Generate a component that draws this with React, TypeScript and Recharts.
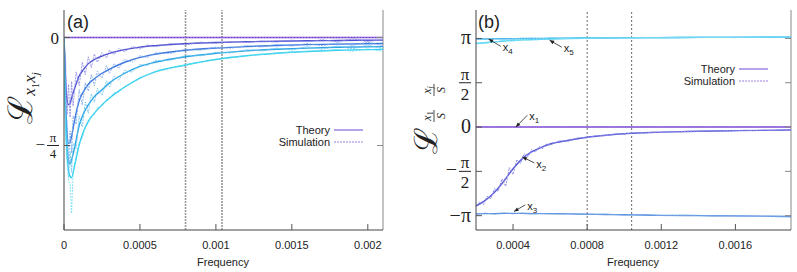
import React from 'react';
import { LineChart, Line, XAxis, YAxis, ReferenceLine } from 'recharts';

// ---- panel (a) data ----
const thFreqA = [0, 0.00001, 0.00002, 0.00003, 0.00004, 0.00005, 0.00007, 0.0001, 0.00013, 0.00016, 0.0002, 0.00025, 0.0003, 0.0004, 0.0005, 0.0006, 0.0008, 0.001, 0.0012, 0.0014, 0.0016, 0.0018, 0.0021];
const thA1 = [0, 0, 0, 0, 0, 0, 0, 0, 0, 0, 0, 0, 0, 0, 0, 0, 0, 0, 0, 0, 0, 0, 0];
const thA2 = [0, -0.3, -0.45, -0.49, -0.48, -0.44, -0.37, -0.28, -0.23, -0.19, -0.16, -0.135, -0.115, -0.088, -0.07, -0.059, -0.045, -0.036, -0.031, -0.027, -0.024, -0.022, -0.019];
const thA3 = [0, -0.45, -0.7, -0.77, -0.76, -0.72, -0.6, -0.46, -0.39, -0.34, -0.3, -0.26, -0.23, -0.18, -0.145, -0.122, -0.093, -0.077, -0.066, -0.058, -0.052, -0.048, -0.044];
const thA4 = [0, -0.5, -0.8, -0.9, -0.92, -0.89, -0.8, -0.64, -0.55, -0.49, -0.43, -0.38, -0.33, -0.26, -0.21, -0.18, -0.14, -0.115, -0.097, -0.085, -0.077, -0.071, -0.066];
const thA5 = [0, -0.55, -0.85, -0.97, -1.01, -1.02, -0.93, -0.78, -0.68, -0.61, -0.55, -0.49, -0.44, -0.36, -0.295, -0.25, -0.2, -0.16, -0.133, -0.115, -0.102, -0.093, -0.086];

const simFreqA = [0, 0.00001, 0.00002, 0.00003, 0.00004, 0.00005, 0.00006, 0.00008, 0.0001, 0.00012, 0.00014, 0.00016, 0.00018, 0.0002, 0.00022, 0.00025, 0.00028, 0.0003, 0.00033, 0.00036, 0.0004, 0.00045, 0.0005, 0.00055, 0.0006, 0.0007, 0.0008, 0.0009, 0.001, 0.0011, 0.0012, 0.0013, 0.0014, 0.0015, 0.0016, 0.0017, 0.0018, 0.0019, 0.002, 0.0021];
const simA2 = [0, -0.15, -0.56, -0.34, -0.58, -0.32, -0.5, -0.25, -0.35, -0.18, -0.27, -0.14, -0.22, -0.12, -0.18, -0.11, -0.15, -0.09, -0.125, -0.08, -0.103, -0.066, -0.084, -0.055, -0.068, -0.045, -0.052, -0.034, -0.043, -0.029, -0.037, -0.025, -0.033, -0.019, -0.031, -0.016, -0.031, -0.01, -0.03, -0.014];
const simA3 = [0, -0.62, -0.6, -0.9, -0.68, -0.84, -0.57, -0.63, -0.38, -0.49, -0.33, -0.39, -0.27, -0.35, -0.245, -0.295, -0.205, -0.26, -0.19, -0.225, -0.16, -0.178, -0.132, -0.146, -0.112, -0.116, -0.085, -0.093, -0.07, -0.078, -0.058, -0.069, -0.05, -0.062, -0.044, -0.06, -0.038, -0.057, -0.034, -0.06];
const simA4 = [0, -0.68, -0.72, -1.02, -0.83, -0.98, -0.77, -0.81, -0.57, -0.65, -0.47, -0.55, -0.41, -0.47, -0.37, -0.42, -0.315, -0.36, -0.28, -0.31, -0.24, -0.252, -0.195, -0.205, -0.168, -0.166, -0.13, -0.133, -0.107, -0.112, -0.089, -0.098, -0.077, -0.091, -0.067, -0.085, -0.061, -0.083, -0.055, -0.081];
const simA5 = [0, -0.72, -0.9, -1.04, -1.06, -1.28, -0.98, -0.87, -0.77, -0.73, -0.65, -0.62, -0.57, -0.56, -0.51, -0.5, -0.45, -0.44, -0.4, -0.4, -0.355, -0.33, -0.29, -0.272, -0.248, -0.224, -0.198, -0.18, -0.158, -0.148, -0.13, -0.124, -0.113, -0.108, -0.1, -0.098, -0.088, -0.1, -0.083, -0.1];

// ---- panel (b) data ----
const thFreqB = [0.0002, 0.00025, 0.0003, 0.00035, 0.0004, 0.00045, 0.0005, 0.00055, 0.0006, 0.0007, 0.0008, 0.0009, 0.001, 0.0011, 0.0012, 0.0014, 0.0016, 0.0019];
const thB1 = [0, 0, 0, 0, 0, 0, 0, 0, 0, 0, 0, 0, 0, 0, 0, 0, 0, 0];
const thB2 = [-2.8, -2.6, -2.31, -1.92, -1.48, -1.12, -0.88, -0.73, -0.6, -0.47, -0.36, -0.29, -0.235, -0.205, -0.18, -0.147, -0.127, -0.107];
const thB3 = [-3.08, -3.07, -3.07, -3.06, -3.06, -3.06, -3.07, -3.07, -3.07, -3.08, -3.09, -3.1, -3.11, -3.12, -3.13, -3.14, -3.15, -3.17];
const thB4 = [3.12, 3.12, 3.13, 3.13, 3.13, 3.14, 3.14, 3.14, 3.15, 3.15, 3.16, 3.16, 3.17, 3.17, 3.17, 3.18, 3.18, 3.19];
const thB5 = [2.96, 2.99, 3.02, 3.05, 3.07, 3.09, 3.1, 3.11, 3.12, 3.14, 3.15, 3.16, 3.16, 3.17, 3.17, 3.18, 3.18, 3.19];

const simFreqB = [0.0002, 0.00022, 0.00024, 0.00026, 0.00028, 0.0003, 0.00032, 0.00034, 0.00036, 0.00038, 0.0004, 0.00042, 0.00044, 0.00046, 0.00048, 0.0005, 0.00052, 0.00054, 0.00056, 0.00058, 0.0006, 0.00065, 0.0007, 0.00075, 0.0008, 0.00085, 0.0009, 0.00095, 0.001, 0.00105, 0.0011, 0.00115, 0.0012, 0.00125, 0.0013, 0.00135, 0.0014, 0.00145, 0.0015, 0.00155, 0.0016, 0.00165, 0.0017, 0.00175, 0.0018, 0.00185, 0.0019];
const simB2 = [-2.78, -2.66, -2.75, -2.46, -2.54, -2.18, -2.28, -1.84, -2.1, -1.44, -1.68, -1.16, -1.3, -0.95, -1.05, -0.8, -0.89, -0.69, -0.76, -0.6, -0.64, -0.49, -0.5, -0.38, -0.38, -0.3, -0.305, -0.25, -0.245, -0.21, -0.213, -0.185, -0.188, -0.162, -0.168, -0.148, -0.154, -0.134, -0.142, -0.123, -0.133, -0.115, -0.127, -0.107, -0.122, -0.101, -0.114];
const simB3 = [-3.1, -3.05, -3.09, -3.04, -3.08, -3.05, -3.08, -3.06, -3.08, -3.07, -3.1, -3.09, -3.12, -3.11, -3.14, -3.13, -3.16, -3.18];
const simB4 = [3.13, 3.11, 3.14, 3.12, 3.14, 3.13, 3.15, 3.13, 3.16, 3.14, 3.17, 3.15, 3.18, 3.16, 3.18, 3.17, 3.19, 3.18];
const simB5 = [2.95, 3.0, 3.01, 3.06, 3.06, 3.1, 3.09, 3.12, 3.11, 3.15, 3.14, 3.17, 3.15, 3.18, 3.16, 3.19, 3.17, 3.2];

const markerFreqs = [0.0008, 0.00104];

const xTicksA = [0, 0.0005, 0.001, 0.0015, 0.002];
const xTicksB = [0.0004, 0.0008, 0.0012, 0.0016];
const yTicksA = [
  { value: 0, sign: '', num: '0', den: '' },
  { value: -Math.PI / 4, sign: '\u2212', num: '\u03c0', den: '4' },
];
const yTicksB = [
  { value: Math.PI, sign: '', num: '\u03c0', den: '' },
  { value: Math.PI / 2, sign: '', num: '\u03c0', den: '2' },
  { value: 0, sign: '', num: '0', den: '' },
  { value: -Math.PI / 2, sign: '\u2212', num: '\u03c0', den: '2' },
  { value: -Math.PI, sign: '\u2212', num: '\u03c0', den: '' },
];

// arrows in panel (b): tail -> tip, label near the tail
const annotationsB = [
  { sub: '1', tail: [0.000477, 0.42], tip: [0.000415, 0] },
  { sub: '2', tail: [0.000515, -1.27], tip: [0.00045, -1.06] },
  { sub: '3', tail: [0.000466, -2.76], tip: [0.000405, -2.99] },
  { sub: '4', tail: [0.000334, 2.86], tip: [0.000268, 3.12] },
  { sub: '5', tail: [0.000663, 2.83], tip: [0.000597, 3.08] },
];

const colorsA = [
  { th: '#6a32c8', sim: '#9b7ae0' },
  { th: '#5050d0', sim: '#8a8ae8' },
  { th: '#3c78dc', sim: '#7aa6ec' },
  { th: '#2aa4e4', sim: '#6cc4f0' },
  { th: '#28ccec', sim: '#70e0f4' },
];
const colorsB = [
  { th: '#7a3fd0', sim: '#a184e4' },
  { th: '#5a5ad8', sim: '#8c8cea' },
  { th: '#4a88dc', sim: '#84aeec' },
  { th: '#38b2ea', sim: '#7ccaf2' },
  { th: '#40d0f0', sim: '#86e2f6' },
];

const toPts = (fs: number[], vs: number[]) => fs.map((f, i) => ({ f, v: vs[i] }));

const serif = '"Liberation Serif", "DejaVu Serif", serif';
const sans = '"Liberation Sans", Arial, sans-serif';

const makeXTick = (fmt: (v: number) => string) => (props: any) => {
  const { x, y, payload } = props;
  return (
    <g>
      <line x1={x} x2={x} y1={y} y2={y - 6} stroke="#555" strokeWidth={1} />
      <text x={x} y={y + 19} textAnchor="middle" fontSize={11} fontFamily={sans} fill="#222">
        {fmt(payload.value)}
      </text>
    </g>
  );
};

const makeYTick = (labels: any[], plotW: number, numSize: number, fracSize: number) => (props: any) => {
  const { x, y, index } = props;
  const lab = labels[index];
  if (!lab) return null;
  const ticks = (
    <>
      <line x1={x} x2={x + 6} y1={y} y2={y} stroke="#555" />
      <line x1={x + plotW - 6} x2={x + plotW} y1={y} y2={y} stroke="#888" />
    </>
  );
  if (!lab.den) {
    return (
      <g>
        {ticks}
        <text x={x - 5} y={y + 6} textAnchor="end" fontSize={numSize} fontFamily={serif} fill="#222">
          {lab.sign}{lab.num}
        </text>
      </g>
    );
  }
  const cx = x - 11;
  return (
    <g>
      {ticks}
      <text x={cx - 8} y={y + 5} textAnchor="end" fontSize={numSize} fontFamily={serif} fill="#222">{lab.sign}</text>
      <text x={cx} y={y - 3} textAnchor="middle" fontSize={fracSize} fontFamily={serif} fill="#222">{lab.num}</text>
      <line x1={cx - 6} x2={cx + 6} y1={y} y2={y} stroke="#222" strokeWidth={1} />
      <text x={cx} y={y + fracSize} textAnchor="middle" fontSize={fracSize} fontFamily={serif} fill="#222">{lab.den}</text>
    </g>
  );
};

const arrowShape = (sub: string) => (props: any) => {
  const { x1, y1, x2, y2 } = props;
  if (x1 == null) return null;
  const ang = Math.atan2(y2 - y1, x2 - x1);
  const L = 5;
  const a1 = ang + Math.PI - 0.4;
  const a2 = ang + Math.PI + 0.4;
  return (
    <g>
      <line x1={x1} y1={y1} x2={x2} y2={y2} stroke="#222" strokeWidth={0.8} />
      <polygon
        points={`${x2},${y2} ${x2 + L * Math.cos(a1)},${y2 + L * Math.sin(a1)} ${x2 + L * Math.cos(a2)},${y2 + L * Math.sin(a2)}`}
        fill="#222"
      />
      <text x={x1 + 2} y={y1 + 5} fontSize={11} fontFamily={sans} fill="#222">
        x<tspan fontSize={8} dy={3}>{sub}</tspan>
      </text>
    </g>
  );
};

const fmtA = (v: number) => (v === 0 ? '0' : String(v));
const fmtB = (v: number) => v.toFixed(4);

const ChartA = () => {
  const th = [thA1, thA2, thA3, thA4, thA5];
  const sim = [thA1.map(() => 0), simA2, simA3, simA4, simA5];
  return (
    <LineChart width={400} height={272} margin={{ top: 10, right: 17, bottom: 0, left: 24 }}>
      <XAxis dataKey="f" type="number" domain={[0, 0.0021]} ticks={xTicksA} height={42}
        tickSize={0} tickMargin={0} tick={makeXTick(fmtA)} axisLine={{ stroke: '#444' }} tickLine={false} interval={0} allowDataOverflow />
      <YAxis type="number" domain={[-1.4, 0.2]} ticks={yTicksA.map(t => t.value)} width={40}
        tickSize={0} tickMargin={0} tick={makeYTick(yTicksA, 319, 17, 13)} axisLine={{ stroke: '#444' }} tickLine={false} interval={0} allowDataOverflow />
      <ReferenceLine x={0.0021} stroke="#888" />
      {markerFreqs.map((m, i) => (
        <ReferenceLine key={'m' + i} x={m} stroke="#999" strokeWidth={1.6} strokeDasharray="2 1" />
      ))}
      {th.map((s, i) => (
        <Line key={'t' + i} data={toPts(thFreqA, s)} dataKey="v" type="monotone"
          stroke={colorsA[i].th} strokeWidth={1.4} dot={false} isAnimationActive={false} />
      ))}
      {sim.map((s, i) => (
        <Line key={'s' + i} data={i === 0 ? toPts(thFreqA, s) : toPts(simFreqA, s)} dataKey="v" type="linear"
          stroke={colorsA[i].sim} strokeWidth={1} strokeDasharray="2 1" strokeOpacity={0.85} dot={false} isAnimationActive={false} />
      ))}
    </LineChart>
  );
};

const ChartB = () => {
  const th = [thB1, thB2, thB3, thB4, thB5];
  return (
    <LineChart width={397} height={272} margin={{ top: 10, right: 6, bottom: 0, left: 26 }}>
      <XAxis dataKey="f" type="number" domain={[0.0002, 0.0019]} ticks={xTicksB} height={42}
        tickSize={0} tickMargin={0} tick={makeXTick(fmtB)} axisLine={{ stroke: '#444' }} tickLine={false} interval={0} allowDataOverflow />
      <YAxis type="number" domain={[-3.65, 4.15]} ticks={yTicksB.map(t => t.value)} width={50}
        tickSize={0} tickMargin={0} tick={makeYTick(yTicksB, 315, 20, 17)} axisLine={{ stroke: '#444' }} tickLine={false} interval={0} allowDataOverflow />
      <ReferenceLine x={0.0019} stroke="#888" />
      {markerFreqs.map((m, i) => (
        <ReferenceLine key={'m' + i} x={m} stroke="#444" strokeWidth={0.8} strokeDasharray="2 2" />
      ))}
      {th.map((s, i) => (
        <Line key={'t' + i} data={toPts(thFreqB, s)} dataKey="v" type="monotone"
          stroke={colorsB[i].th} strokeWidth={1.4} dot={false} isAnimationActive={false} />
      ))}
      <Line data={toPts(thFreqB, thB1)} dataKey="v" stroke={colorsB[0].sim} strokeWidth={1} strokeDasharray="2 1" dot={false} isAnimationActive={false} />
      <Line data={toPts(simFreqB, simB2)} dataKey="v" stroke={colorsB[1].sim} strokeWidth={1} strokeDasharray="2 1" dot={false} isAnimationActive={false} />
      <Line data={toPts(thFreqB, simB3)} dataKey="v" stroke={colorsB[2].sim} strokeWidth={1} strokeDasharray="2 1" dot={false} isAnimationActive={false} />
      <Line data={toPts(thFreqB, simB4)} dataKey="v" stroke={colorsB[3].sim} strokeWidth={1} strokeDasharray="2 1" dot={false} isAnimationActive={false} />
      <Line data={toPts(thFreqB, simB5)} dataKey="v" stroke={colorsB[4].sim} strokeWidth={1} strokeDasharray="2 1" dot={false} isAnimationActive={false} />
      {annotationsB.map((a, i) => (
        <ReferenceLine key={'a' + i} segment={[{ x: a.tail[0], y: a.tail[1] }, { x: a.tip[0], y: a.tip[1] }]}
          shape={arrowShape(a.sub)} ifOverflow="visible" />
      ))}
    </LineChart>
  );
};

const Legend = ({ x, y }: { x: number; y: number }) => (
  <g fontFamily={sans} fontSize={11} fill="#222">
    <text x={x} y={y + 4} textAnchor="end">Theory</text>
    <line x1={x + 4} x2={x + 33} y1={y} y2={y} stroke="#a68be8" strokeWidth={1.6} />
    <text x={x} y={y + 16} textAnchor="end">Simulation</text>
    <line x1={x + 4} x2={x + 33} y1={y + 12} y2={y + 12} stroke="#9b80e0" strokeWidth={1} strokeDasharray="2 1" />
  </g>
);

export default function App() {
  return (
    <div style={{ position: 'absolute', left: 0, top: 0, width: 797, height: 272, background: '#fff' }}>
      <div style={{ position: 'absolute', left: 0, top: 0 }}>
        <ChartA />
      </div>
      <div style={{ position: 'absolute', left: 400, top: 0 }}>
        <ChartB />
      </div>
      <svg width={797} height={272} style={{ position: 'absolute', left: 0, top: 0, pointerEvents: 'none' }}>
        <text x={67} y={28} fontFamily={sans} fontSize={18} fill="#222">(a)</text>
        <text x={478} y={28} fontFamily={sans} fontSize={18} fill="#222">(b)</text>
        <text x={223} y={266} textAnchor="middle" fontFamily={sans} fontSize={11} fill="#222">Frequency</text>
        <text x={633} y={266} textAnchor="middle" fontFamily={sans} fontSize={11} fill="#222">Frequency</text>
        <Legend x={330} y={130} />
        <Legend x={735} y={69} />
        <text transform="translate(32,98) rotate(-90)" textAnchor="middle" fontFamily={serif} fill="#222">
          <tspan fontSize={34}>ℒ</tspan>
          <tspan fontSize={17} fontStyle="italic" dy={3}>x</tspan>
          <tspan fontSize={11} dy={4}>1</tspan>
          <tspan fontSize={17} fontStyle="italic" dy={-4}>x</tspan>
          <tspan fontSize={11} fontStyle="italic" dy={4}>j</tspan>
        </text>
        <g transform="translate(433,116) rotate(-90)" fontFamily={serif} fill="#222">
          <text x={-38} y={4} fontSize={32}>ℒ</text>
          <text x={0} y={-2} fontSize={12} fontStyle="italic" textAnchor="middle">x<tspan fontSize={8} fontStyle="normal" dy={2}>1</tspan></text>
          <line x1={-6} x2={6} y1={1} y2={1} stroke="#222" strokeWidth={0.8} />
          <text x={0} y={12} fontSize={12} fontStyle="italic" textAnchor="middle">S</text>
          <text x={26} y={-2} fontSize={12} fontStyle="italic" textAnchor="middle">x<tspan fontSize={8} dy={2}>j</tspan></text>
          <line x1={20} x2={32} y1={1} y2={1} stroke="#222" strokeWidth={0.8} />
          <text x={26} y={12} fontSize={12} fontStyle="italic" textAnchor="middle">S</text>
        </g>
      </svg>
    </div>
  );
}
